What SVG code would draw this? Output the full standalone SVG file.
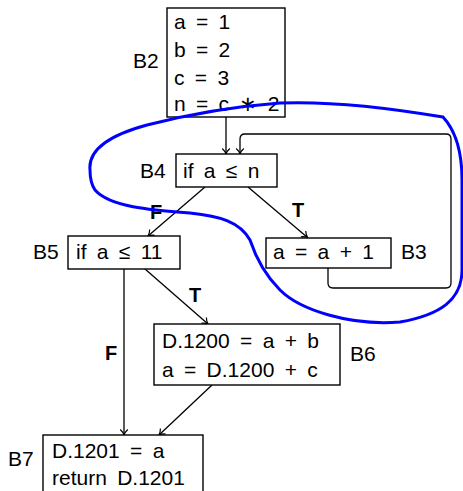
<svg xmlns="http://www.w3.org/2000/svg" width="463" height="491" viewBox="0 0 463 491">
<style>
.box{fill:#fff;stroke:#000;stroke-width:1.4}
.t{font-family:"Liberation Sans",Arial,sans-serif;font-size:21px;fill:#000;word-spacing:4.5px}
.lb{font-family:"Liberation Sans",Arial,sans-serif;font-size:21px;fill:#000}
.tf{font-family:"Liberation Sans",Arial,sans-serif;font-size:20px;font-weight:bold;fill:#000}
.e{fill:none;stroke:#000;stroke-width:1.3}
</style>
<defs>
<marker id="ah" viewBox="-7 -5 8 10" refX="0" refY="0" markerWidth="8" markerHeight="10" markerUnits="userSpaceOnUse" orient="auto">
<path d="M -5.5,-3.8 C -3.5,-1.6 -1.2,-0.4 0,0 C -1.2,0.4 -3.5,1.6 -5.5,3.8" fill="none" stroke="#000" stroke-width="1.2"/>
</marker>
</defs>
<g id="edges">
<path class="e" d="M 226,117 L 226,154" marker-end="url(#ah)"/>
<path class="e" d="M 328,268 L 328,283 Q 328,288 333,288 L 446,288 Q 451,288 451,283 L 451,139 Q 451,134 446,134 L 245,134 Q 240,134 240,139 L 240,154" marker-end="url(#ah)"/>
<path class="e" d="M 248,187 L 307.5,237.5" marker-end="url(#ah)"/>
<path class="e" d="M 205,187 L 148,236" marker-end="url(#ah)"/>
<path class="e" d="M 124,269 L 124,435" marker-end="url(#ah)"/>
<path class="e" d="M 145,269 L 208,324" marker-end="url(#ah)"/>
<path class="e" d="M 212,385 L 159,435" marker-end="url(#ah)"/>
<text class="tf" x="150" y="219">F</text>
<text class="tf" x="292" y="217">T</text>
<text class="tf" x="189" y="302">T</text>
<text class="tf" x="105" y="360">F</text>
</g>
<g id="B2">
<rect class="box" x="167" y="8" width="118" height="109"/>
<text class="t" x="174" y="29">a = 1</text>
<text class="t" x="174" y="57">b = 2</text>
<text class="t" x="174" y="85">c = 3</text>
<text class="t" x="174" y="111">n = c ∗ 2</text>
<text class="lb" x="133" y="68">B2</text>
</g>
<g id="B4">
<rect class="box" x="176" y="154" width="101" height="33"/>
<text class="t" x="183" y="178">if a ≤ n</text>
<text class="lb" x="140" y="178">B4</text>
</g>
<g id="B3">
<rect class="box" x="266" y="238" width="125" height="30"/>
<text class="t" x="273" y="259">a = a + 1</text>
<text class="lb" x="401" y="259">B3</text>
</g>
<g id="B5">
<rect class="box" x="68" y="236" width="112" height="33"/>
<text class="t" x="76" y="259">if a ≤ 11</text>
<text class="lb" x="33" y="259">B5</text>
</g>
<g id="B6">
<rect class="box" x="154" y="324" width="186" height="61"/>
<text class="t" x="162" y="348">D.1200 = a + b</text>
<text class="t" x="162" y="377">a = D.1200 + c</text>
<text class="lb" x="350" y="361">B6</text>
</g>
<g id="B7">
<rect class="box" x="43" y="435" width="160" height="70"/>
<text class="t" x="52" y="458">D.1201 = a</text>
<text class="t" x="52" y="485">return D.1201</text>
<text class="lb" x="8" y="466">B7</text>
</g>
<g id="region">
<path d="M 90,170 C 88,150 110,135 147,125 C 190,114 240,106 280,103 C 330,101 390,108 443,117 C 455,130 462,150 462,180 L 462,270 C 462,300 440,315 400,322 C 350,326 300,310 280,290 C 262,272 254,252 250,240 C 240,222 220,216 190,213 C 150,210 110,207 95,190 C 91,184 90,177 90,170 Z" fill="none" stroke="#0000ff" stroke-width="3"/>
</g>
</svg>
